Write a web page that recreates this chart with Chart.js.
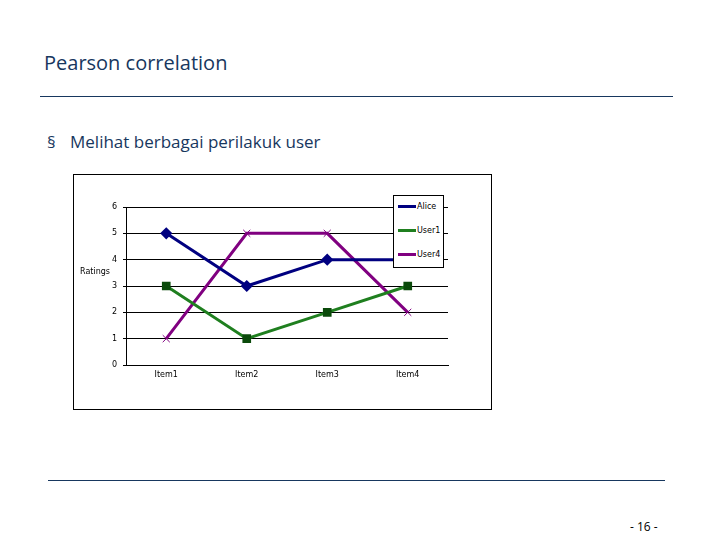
<!DOCTYPE html>
<html>
<head>
<meta charset="utf-8">
<script src="https://cdn.jsdelivr.net/npm/chart.js@4"></script>
<style>
  body { margin: 0; width: 720px; height: 540px; background: #fff; position: relative; font-family: "Open Sans", sans-serif; overflow: hidden; }
  .abs { position: absolute; }
  #title { left: 44px; top: 49px; font-size: 20px; color: #17375e; }
  #rule1 { left: 40px; top: 96px; width: 633px; height: 1px; background: #17375e; }
  #bullet { left: 47px; top: 130px; font-size: 17px; color: #17375e; }
  #bullet span { position: absolute; left: 23px; white-space: nowrap; }
  #rule2 { left: 48px; top: 480px; width: 617px; height: 1px; background: #17375e; }
  #page { left: 630px; top: 518px; font-size: 12px; color: #000; }
  #box { left: 73px; top: 174px; width: 417px; height: 234px; border: 1px solid #000; background: #fff; }
  #ratings { left: 80px; top: 267px; font-size: 8px; font-family: "DejaVu Sans", sans-serif; }
  #legend { left: 393px; top: 195px; width: 49px; height: 71px; border: 1px solid #000; background: #fff; font-size: 8px; font-family: "DejaVu Sans", sans-serif; }
  .item { position: absolute; left: 4px; display: flex; align-items: center; }
  .sw { width: 18px; height: 3px; margin-right: 1px; }
</style>
</head>
<body>
<div id="title" class="abs">Pearson correlation</div>
<div id="rule1" class="abs"></div>
<div id="bullet" class="abs">§<span>Melihat berbagai perilakuk user</span></div>
<div id="rule2" class="abs"></div>
<div id="page" class="abs">- 16 -</div>
<div id="box" class="abs"><canvas id="c" width="417" height="234"></canvas></div>
<div id="ratings" class="abs">Ratings</div>
<div id="legend" class="abs"></div>
<script>
const items = ['Item1', 'Item2', 'Item3', 'Item4'];
const alice = [5, 3, 4, 4];
const user1 = [3, 1, 2, 3];
const user4 = [1, 5, 5, 2];
const names = ['Alice', 'User1', 'User4'];
const colors = ['#000080', '#1f7f1f', '#800080'];

const tickFont = { size: 8, family: 'DejaVu Sans' };

const datasets = [
  { label: names[0], data: alice, borderColor: colors[0], backgroundColor: colors[0], pointStyle: 'rectRot', pointRadius: 4 },
  { label: names[1], data: user1, borderColor: colors[1], backgroundColor: '#0b4a0b', pointBorderColor: '#0b4a0b', pointStyle: 'rect', pointRadius: 4 },
  { label: names[2], data: user4, borderColor: colors[2], backgroundColor: colors[2], pointStyle: 'crossRot', pointRadius: 5, pointBorderWidth: 1 },
].map(d => Object.assign({ borderWidth: 3, tension: 0 }, d));

new Chart(document.getElementById('c'), {
  type: 'line',
  data: { labels: items, datasets },
  options: {
    responsive: false,
    animation: false,
    layout: { padding: { top: 32, right: 43, left: 0, bottom: 0 } },
    plugins: { legend: { display: false }, tooltip: { enabled: false } },
    scales: {
      x: {
        offset: true,
        grid: { display: false, drawTicks: true },
        border: { color: '#000' },
        ticks: { color: '#000', font: tickFont, padding: -3 },
        afterFit: s => { s.height = 44; },
      },
      y: {
        min: 0, max: 6,
        ticks: { stepSize: 1, color: '#000', font: tickFont, padding: 6 },
        grid: { color: '#000', tickLength: 3 },
        border: { color: '#000' },
        afterFit: s => { s.width = 52; },
      },
    },
  },
});

// legend
const lg = document.getElementById('legend');
names.forEach((n, i) => {
  const el = document.createElement('div');
  el.className = 'item';
  el.style.top = (6 + i * 24) + 'px';
  el.innerHTML = '<span class="sw" style="background:' + colors[i] + '"></span>' + n;
  lg.appendChild(el);
});
</script>
</body>
</html>
